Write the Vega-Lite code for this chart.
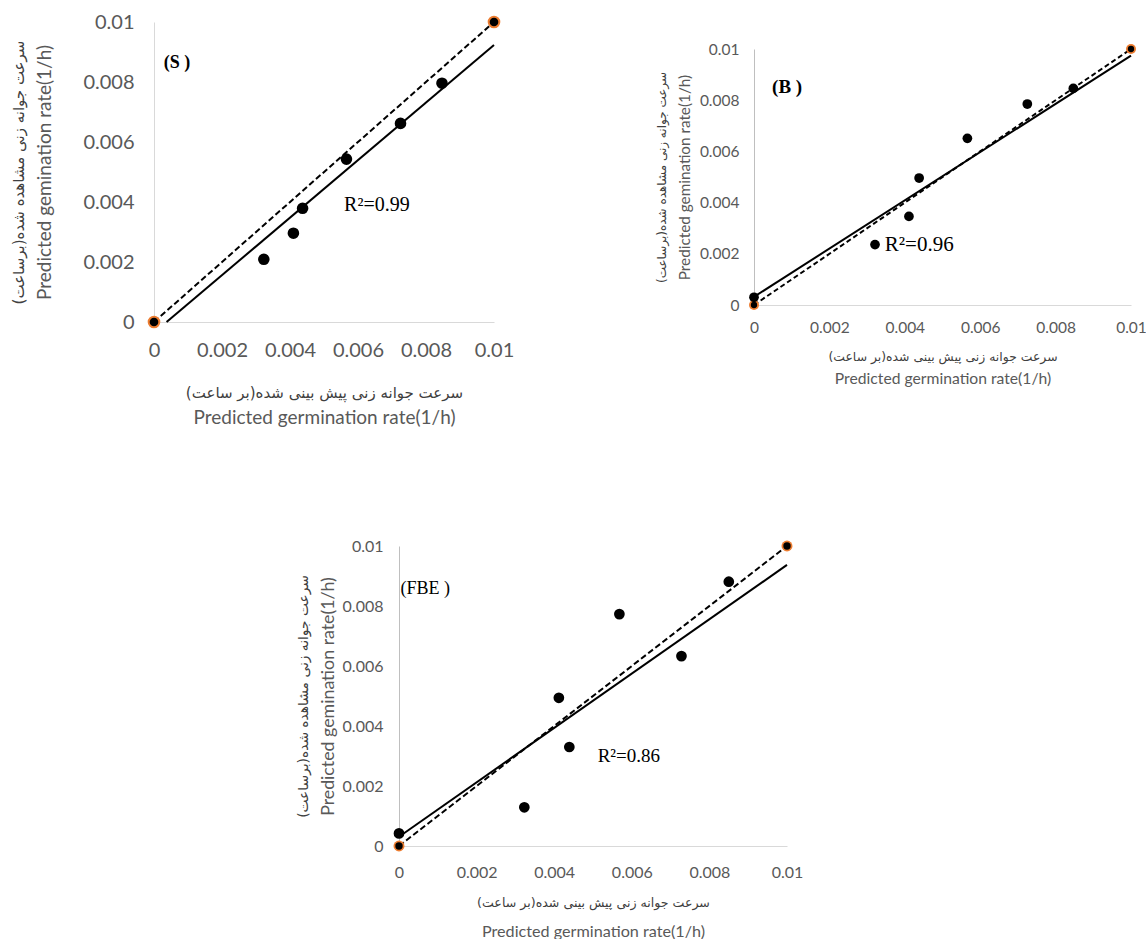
{
  "$schema": "https://vega.github.io/schema/vega-lite/v6.json",
  "padding": {"left": 11, "top": 12, "right": 0, "bottom": 0},
  "background": "white",
  "config": {"view": {"stroke": null}, "font": "Lato", "axis": {"labelFlush": false, "labelOverlap": false}},
  "datasets": {
    "S_obs": [{"x":0.00323,"y":0.00209},{"x":0.0041,"y":0.00296},{"x":0.00437,"y":0.00379},{"x":0.00566,"y":0.00543},{"x":0.00725,"y":0.00662},{"x":0.00847,"y":0.00796}],
    "S_fit": [{"x":0.00037,"y":0},{"x":0.01,"y":0.00923}],
    "ref": [{"x":0,"y":0},{"x":0.01,"y":0.01}],
    "S_lab": [{"x":0.00029,"y":0.00864,"t":"(S )"}],
    "S_r2": [{"x":0.00559,"y":0.0039,"t":"R²=0.99"}],
    "B_obs": [{"x":0,"y":0.0003},{"x":0.00321,"y":0.00236},{"x":0.00411,"y":0.00346},{"x":0.00438,"y":0.00496},{"x":0.00566,"y":0.00651},{"x":0.00725,"y":0.00785},{"x":0.00847,"y":0.00846}],
    "B_fit": [{"x":0,"y":0.00032},{"x":0.01,"y":0.00974}],
    "B_lab": [{"x":0.00048,"y":0.00853,"t":"(B )"}],
    "B_r2": [{"x":0.00347,"y":0.00236,"t":"R²=0.96"}],
    "F_obs": [{"x":0,"y":0.00042},{"x":0.00323,"y":0.00129},{"x":0.00412,"y":0.00494},{"x":0.00439,"y":0.0033},{"x":0.00568,"y":0.00773},{"x":0.00728,"y":0.00633},{"x":0.0085,"y":0.00881}],
    "F_fit": [{"x":0,"y":0.00031},{"x":0.01,"y":0.00937}],
    "F_lab": [{"x":0.00004,"y":0.00856,"t":"(FBE )"}],
    "F_r2": [{"x":0.00512,"y":0.003,"t":"R²=0.86"}],
    "one": [{}]
  },
  "spacing": 111,
  "vconcat": [
    {
      "spacing": 141,
      "hconcat": [
        {
          "width": 340, "height": 300,
          "resolve": {"axis": {"x": "independent", "y": "independent"}},
          "layer": [
            {
              "encoding": {
                "x": {"field":"x","type":"quantitative","scale":{"domain":[0,0.01],"nice":false,"zero":false},
                  "axis":{"orient":"bottom","values":[0,0.002,0.004,0.006,0.008,0.01],"format":"~g","labelFont":"Lato","labelFontSize":20,"labelColor":"#595959","labelPadding":18,"ticks":false,"grid":false,"domainColor":"#d9d9d9",
                    "title":"سرعت جوانه زنی پیش بینی شده(بر ساعت)‏","titleFont":"DejaVu Sans","titleFontSize":15,"titleFontWeight":"normal","titleColor":"#404040","titlePadding":25}},
                "y": {"field":"y","type":"quantitative","scale":{"domain":[0,0.01],"nice":false,"zero":false},
                  "axis":{"orient":"left","values":[0,0.002,0.004,0.006,0.008,0.01],"format":"~g","labelFont":"Lato","labelFontSize":20,"labelColor":"#595959","labelPadding":20,"ticks":false,"grid":false,"domainColor":"#d9d9d9",
                    "title":"Predicted gemination rate(1/h)","titleFont":"Lato","titleFontSize":19,"titleFontWeight":"normal","titleColor":"#595959","titlePadding":28}}
              },
              "layer": [
                {"data":{"name":"one"},"mark":{"type":"rule","color":"black","strokeWidth":1},"encoding":{"x":{"datum":0},"x2":{"datum":0.01},"y":{"datum":0.01}}},
                {"data":{"name":"one"},"mark":{"type":"rule","color":"black","strokeWidth":1},"encoding":{"x":{"datum":0.01},"y":{"datum":0},"y2":{"datum":0.01}}},
                {"data":{"name":"S_fit"},"mark":{"type":"line","color":"black","strokeWidth":2},"encoding":{}},
                {"data":{"name":"ref"},"mark":{"type":"line","color":"black","strokeWidth":2,"strokeDash":[6,3]},"encoding":{}},
                {"data":{"name":"ref"},"mark":{"type":"circle","color":"#ED7D31","opacity":1,"size":160},"encoding":{}},
                {"data":{"name":"ref"},"mark":{"type":"circle","color":"black","opacity":1,"size":75},"encoding":{}},
                {"data":{"name":"S_obs"},"mark":{"type":"circle","color":"black","opacity":1,"size":135},"encoding":{}},
                {"data":{"name":"S_lab"},"mark":{"type":"text","align":"left","baseline":"middle","font":"Liberation Serif","fontSize":18,"fontWeight":"bold","color":"black"},"encoding":{"text":{"field":"t"}}},
                {"data":{"name":"S_r2"},"mark":{"type":"text","align":"left","baseline":"middle","font":"Liberation Serif","fontSize":20,"color":"black"},"encoding":{"text":{"field":"t"}}}
              ]
            },
            {
              "data":{"name":"ref"},"mark":{"type":"point","opacity":0},
              "encoding": {
                "x": {"field":"x","type":"quantitative","scale":{"domain":[0,0.01],"nice":false,"zero":false},
                  "axis":{"orient":"bottom","labels":false,"ticks":false,"domain":false,"grid":false,"title":"Predicted germination rate(1/h)","titleFont":"Lato","titleFontSize":19,"titleFontWeight":"normal","titleColor":"#595959","titlePadding":86}},
                "y": {"field":"y","type":"quantitative","scale":{"domain":[0,0.01],"nice":false,"zero":false},
                  "axis":{"orient":"left","labels":false,"ticks":false,"domain":false,"grid":false,"title":"سرعت جوانه زنی مشاهده شده(برساعت)‏","titleFont":"DejaVu Sans","titleFontSize":15,"titleFontWeight":"normal","titleColor":"#404040","titlePadding":128}}
              }
            }
          ]
        },
        {
          "spacing": 0,
          "vconcat": [
            {"width": 2, "height": 20, "data":{"name":"one"}, "mark":{"type":"point","opacity":0}, "encoding":{}},
            {
              "width": 377, "height": 256,
              "resolve": {"axis": {"x": "independent", "y": "independent"}},
              "layer": [
                {
                  "encoding": {
                    "x": {"field":"x","type":"quantitative","scale":{"domain":[0,0.01],"nice":false,"zero":false},
                      "axis":{"orient":"bottom","values":[0,0.002,0.004,0.006,0.008,0.01],"format":"~g","labelFont":"Lato","labelFontSize":15.5,"labelColor":"#595959","labelPadding":15,"ticks":false,"grid":false,"domainColor":"#d9d9d9",
                        "title":"سرعت جوانه زنی پیش بینی شده(بر ساعت)‏","titleFont":"DejaVu Sans","titleFontSize":12.4,"titleFontWeight":"normal","titleColor":"#404040","titlePadding":15}},
                    "y": {"field":"y","type":"quantitative","scale":{"domain":[0,0.01],"nice":false,"zero":false},
                      "axis":{"orient":"left","values":[0,0.002,0.004,0.006,0.008,0.01],"format":"~g","labelFont":"Lato","labelFontSize":15.5,"labelColor":"#595959","labelPadding":15,"ticks":false,"grid":false,"domainColor":"#bfbfbf",
                        "title":"Predicted gemination rate(1/h)","titleFont":"Lato","titleFontSize":15.3,"titleFontWeight":"normal","titleColor":"#595959","titlePadding":7}}
                  },
                  "layer": [
                    {"data":{"name":"one"},"mark":{"type":"rule","color":"black","strokeWidth":1},"encoding":{"x":{"datum":0},"x2":{"datum":0.01},"y":{"datum":0.01}}},
                    {"data":{"name":"one"},"mark":{"type":"rule","color":"black","strokeWidth":1},"encoding":{"x":{"datum":0.01},"y":{"datum":0},"y2":{"datum":0.01}}},
                    {"data":{"name":"B_fit"},"mark":{"type":"line","color":"black","strokeWidth":2},"encoding":{}},
                    {"data":{"name":"ref"},"mark":{"type":"line","color":"black","strokeWidth":2,"strokeDash":[5,3]},"encoding":{}},
                    {"data":{"name":"ref"},"mark":{"type":"circle","color":"#ED7D31","opacity":1,"size":100},"encoding":{}},
                    {"data":{"name":"ref"},"mark":{"type":"circle","color":"black","opacity":1,"size":40},"encoding":{}},
                    {"data":{"name":"B_obs"},"mark":{"type":"circle","color":"black","opacity":1,"size":95},"encoding":{}},
                    {"data":{"name":"B_lab"},"mark":{"type":"text","align":"left","baseline":"middle","font":"Liberation Serif","fontSize":19,"fontWeight":"bold","color":"black"},"encoding":{"text":{"field":"t"}}},
                    {"data":{"name":"B_r2"},"mark":{"type":"text","align":"left","baseline":"middle","font":"Liberation Serif","fontSize":21,"color":"black"},"encoding":{"text":{"field":"t"}}}
                  ]
                },
                {
                  "data":{"name":"ref"},"mark":{"type":"point","opacity":0},
                  "encoding": {
                    "x": {"field":"x","type":"quantitative","scale":{"domain":[0,0.01],"nice":false,"zero":false},
                      "axis":{"orient":"bottom","labels":false,"ticks":false,"domain":false,"grid":false,"title":"Predicted germination rate(1/h)","titleFont":"Lato","titleFontSize":15.7,"titleFontWeight":"normal","titleColor":"#595959","titlePadding":66}},
                    "y": {"field":"y","type":"quantitative","scale":{"domain":[0,0.01],"nice":false,"zero":false},
                      "axis":{"orient":"left","labels":false,"ticks":false,"domain":false,"grid":false,"title":"سرعت جوانه زنی مشاهده شده(برساعت)‏","titleFont":"DejaVu Sans","titleFontSize":12,"titleFontWeight":"normal","titleColor":"#404040","titlePadding":86}}
                  }
                }
              ]
            }
          ]
        }
      ]
    },
    {
      "spacing": 0,
      "hconcat": [
        {"width": 142, "height": 2, "data":{"name":"one"}, "mark":{"type":"point","opacity":0}, "encoding":{}},
        {
          "width": 388, "height": 300,
          "resolve": {"axis": {"x": "independent", "y": "independent"}},
          "layer": [
            {
              "encoding": {
                "x": {"field":"x","type":"quantitative","scale":{"domain":[0,0.01],"nice":false,"zero":false},
                  "axis":{"orient":"bottom","values":[0,0.002,0.004,0.006,0.008,0.01],"format":"~g","labelFont":"Lato","labelFontSize":16,"labelColor":"#595959","labelPadding":18,"ticks":false,"grid":false,"domainColor":"#d9d9d9",
                    "title":"سرعت جوانه زنی پیش بینی شده(بر ساعت)‏","titleFont":"DejaVu Sans","titleFontSize":12.6,"titleFontWeight":"normal","titleColor":"#404040","titlePadding":16}},
                "y": {"field":"y","type":"quantitative","scale":{"domain":[0,0.01],"nice":false,"zero":false},
                  "axis":{"orient":"left","values":[0,0.002,0.004,0.006,0.008,0.01],"format":"~g","labelFont":"Lato","labelFontSize":16,"labelColor":"#595959","labelPadding":16,"ticks":false,"grid":false,"domainColor":"#bfbfbf",
                    "title":"Predicted gemination rate(1/h)","titleFont":"Lato","titleFontSize":17.8,"titleFontWeight":"normal","titleColor":"#595959","titlePadding":5}}
              },
              "layer": [
                {"data":{"name":"one"},"mark":{"type":"rule","color":"black","strokeWidth":1},"encoding":{"x":{"datum":0},"x2":{"datum":0.01},"y":{"datum":0.01}}},
                {"data":{"name":"one"},"mark":{"type":"rule","color":"black","strokeWidth":1},"encoding":{"x":{"datum":0.01},"y":{"datum":0},"y2":{"datum":0.01}}},
                {"data":{"name":"F_fit"},"mark":{"type":"line","color":"black","strokeWidth":2},"encoding":{}},
                {"data":{"name":"ref"},"mark":{"type":"line","color":"black","strokeWidth":2,"strokeDash":[6,3]},"encoding":{}},
                {"data":{"name":"ref"},"mark":{"type":"circle","color":"#ED7D31","opacity":1,"size":120},"encoding":{}},
                {"data":{"name":"ref"},"mark":{"type":"circle","color":"black","opacity":1,"size":55},"encoding":{}},
                {"data":{"name":"F_obs"},"mark":{"type":"circle","color":"black","opacity":1,"size":115},"encoding":{}},
                {"data":{"name":"F_lab"},"mark":{"type":"text","align":"left","baseline":"middle","font":"Liberation Serif","fontSize":18,"color":"black"},"encoding":{"text":{"field":"t"}}},
                {"data":{"name":"F_r2"},"mark":{"type":"text","align":"left","baseline":"middle","font":"Liberation Serif","fontSize":19,"color":"black"},"encoding":{"text":{"field":"t"}}}
              ]
            },
            {
              "data":{"name":"ref"},"mark":{"type":"point","opacity":0},
              "encoding": {
                "x": {"field":"x","type":"quantitative","scale":{"domain":[0,0.01],"nice":false,"zero":false},
                  "axis":{"orient":"bottom","labels":false,"ticks":false,"domain":false,"grid":false,"title":"Predicted germination rate(1/h)","titleFont":"Lato","titleFontSize":16.2,"titleFontWeight":"normal","titleColor":"#595959","titlePadding":77}},
                "y": {"field":"y","type":"quantitative","scale":{"domain":[0,0.01],"nice":false,"zero":false},
                  "axis":{"orient":"left","labels":false,"ticks":false,"domain":false,"grid":false,"title":"سرعت جوانه زنی مشاهده شده(برساعت)‏","titleFont":"DejaVu Sans","titleFontSize":13.8,"titleFontWeight":"normal","titleColor":"#404040","titlePadding":89}}
              }
            }
          ]
        }
      ]
    }
  ]
}
